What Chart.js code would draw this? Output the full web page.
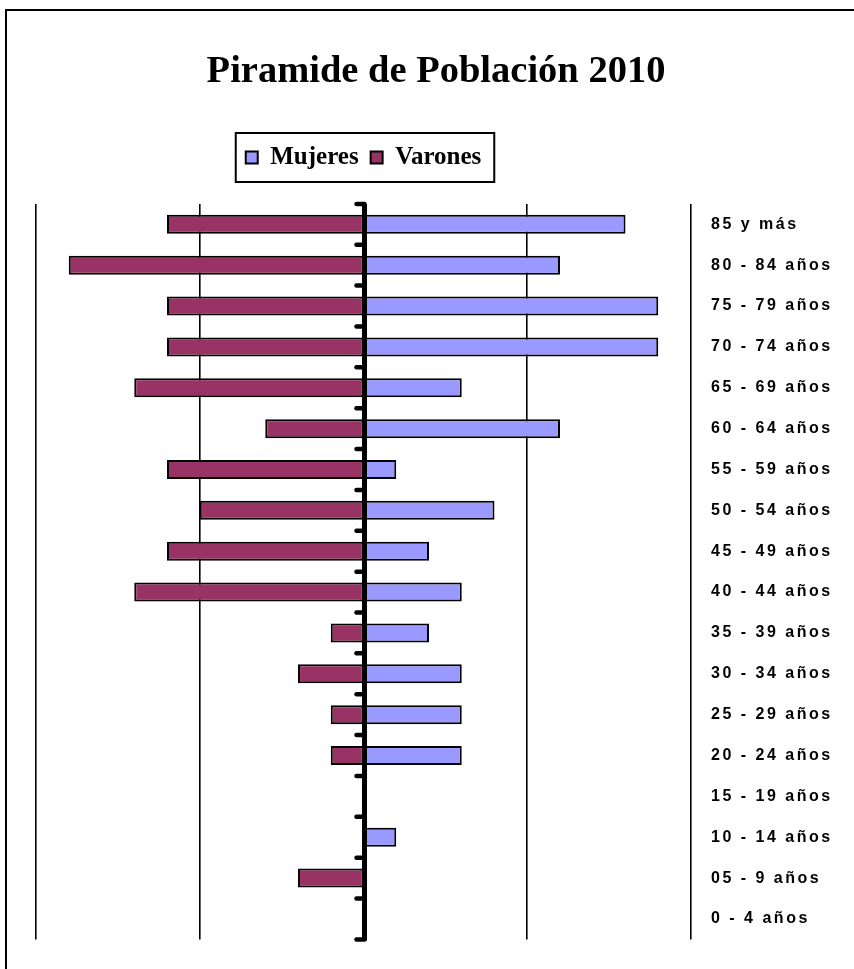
<!DOCTYPE html>
<html>
<head>
<meta charset="utf-8">
<title>Piramide de Población 2010</title>
<script src="https://cdn.jsdelivr.net/npm/chart.js@4.4.1/dist/chart.umd.min.js"></script>
<style>
  html, body { margin: 0; padding: 0; background: #fff; overflow: hidden; }
  #frame { position: absolute; left: 5px; top: 9px; width: 880px; height: 1000px; border: 2px solid #000; }
  #chart { position: absolute; left: 0; top: 0; }
</style>
</head>
<body>
<div id="frame">
  <canvas id="chart" width="829" height="958"></canvas>
</div>
<script>
// age groups, top to bottom
const ageGroups = ['85 y más', '80 - 84 años', '75 - 79 años', '70 - 74 años', '65 - 69 años',
    '60 - 64 años', '55 - 59 años', '50 - 54 años', '45 - 49 años', '40 - 44 años',
    '35 - 39 años', '30 - 34 años', '25 - 29 años', '20 - 24 años', '15 - 19 años',
    '10 - 14 años', '05 - 9 años', '0 - 4 años'];
const mujeres = [8, 6, 9, 9, 3, 6, 1, 4, 2, 3, 2, 3, 3, 3, 0, 1, 0, 0];
const varones = [6, 9, 6, 6, 7, 3, 6, 5, 6, 7, 1, 2, 1, 1, 0, 0, 2, 0];
const xMin = -10;
const xMax = 10;
const xStep = 5;

// box around the legend
const legendBox = {
    id: 'legendBox',
    afterDraw(chart) {
        const boxes = chart.legend.legendHitBoxes;
        if (!boxes || !boxes.length) return;
        const first = boxes[0];
        const last = boxes[boxes.length - 1];
        const ctx = chart.ctx;
        ctx.save();
        ctx.strokeStyle = '#000';
        ctx.lineWidth = 2;
        ctx.strokeRect(first.left - 10, first.top - 12, last.left + last.width + 13 - (first.left - 10), first.height + 24);
        ctx.restore();
    }
};

// thick centre axis with small ticks between the age groups
const centreAxis = {
    id: 'centreAxis',
    afterDatasetsDraw(chart) {
        const {ctx, chartArea, scales} = chart;
        const x0 = scales.x.getPixelForValue(0) + 1;
        ctx.save();
        ctx.strokeStyle = '#000';
        ctx.lineCap = 'round';
        ctx.lineWidth = 4.5;
        for (let i = 0; i <= ageGroups.length; i++) {
            const y = scales.y.getPixelForValue(i - 0.5);
            ctx.beginPath();
            ctx.moveTo(x0 - 8, y);
            ctx.lineTo(x0, y);
            ctx.stroke();
        }
        ctx.lineCap = 'butt';
        ctx.lineWidth = 5;
        ctx.beginPath();
        ctx.moveTo(x0, chartArea.top);
        ctx.lineTo(x0, chartArea.bottom + 1);
        ctx.stroke();
        ctx.restore();
    }
};

const ctx = document.getElementById('chart').getContext('2d');
const chart = new Chart(ctx, {
    type: 'bar',
    data: {
        labels: ageGroups,
        datasets: [
            {
                label: 'Mujeres',
                data: mujeres,
                backgroundColor: '#9999FF',
                borderColor: '#000',
                borderWidth: 2,
                borderSkipped: false,
                inflateAmount: 0,
                barThickness: 19
            },
            {
                label: 'Varones',
                data: varones.map(v => -v),
                backgroundColor: '#993366',
                borderColor: '#000',
                borderWidth: 2,
                borderSkipped: false,
                inflateAmount: 0,
                barThickness: 19
            }
        ]
    },
    options: {
        indexAxis: 'y',
        responsive: false,
        animation: false,
        layout: { padding: { left: 29, right: 0, top: 0, bottom: 24 } },
        plugins: {
            title: {
                display: true,
                text: 'Piramide de Población 2010',
                color: '#000',
                font: { family: 'Liberation Serif', size: 38.5, weight: 'bold', lineHeight: 1.2 },
                padding: { top: 37.5, bottom: 38.3 }
            },
            legend: {
                display: true,
                position: 'top',
                fullSize: false,
                labels: {
                    color: '#000',
                    font: { family: 'Liberation Serif', size: 25, weight: 'bold' },
                    boxWidth: 12,
                    boxHeight: 12,
                    padding: 12
                }
            },
            tooltip: { enabled: false }
        },
        scales: {
            x: {
                position: 'top',
                stacked: true,
                min: xMin,
                max: xMax,
                ticks: { display: false, stepSize: xStep },
                grid: {
                    color: '#000',
                    lineWidth: c => (c.tick && c.tick.value === 0 ? 0 : 1.6),
                    drawTicks: false
                },
                border: { display: false },
                afterFit: s => { s.height = 23.9; }
            },
            y: {
                position: 'right',
                stacked: true,
                grid: { display: false, drawTicks: false },
                border: { display: false },
                ticks: {
                    color: '#000',
                    font: { family: 'Liberation Sans', size: 16, weight: 'bold' },
                    padding: 20,
                    crossAlign: 'near'
                },
                afterFit: function (s) {
                    s.width = 145;
                    if (!s._spaced) {
                        const orig = s.drawLabels;
                        s.drawLabels = function (area) {
                            const c = this.ctx;
                            c.save();
                            c.letterSpacing = '2.5px';
                            orig.call(this, area);
                            c.restore();
                        };
                        s._spaced = true;
                    }
                }
            }
        }
    },
    plugins: [legendBox, centreAxis]
});
</script>
</body>
</html>
